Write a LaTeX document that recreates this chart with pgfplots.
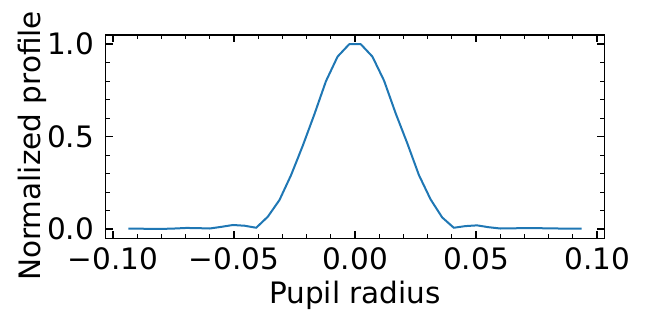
\documentclass[border=0pt]{standalone}
\usepackage{pgfplots}
\pgfplotsset{compat=1.18}
\usepackage{fontspec}
\setmainfont{DejaVu Sans}
\definecolor{mplblue}{HTML}{1F77B4}
\newcommand{\bigf}{\fontsize{29.5bp}{35bp}\selectfont}
\begin{document}
\begin{tikzpicture}
\begin{axis}[
  at={(0,0)}, anchor=south west,
  scale only axis,
  width=498.6bp, height=203.3bp,
  xmin=-0.10296, xmax=0.10296,
  ymin=-0.05, ymax=1.05,
  xtick={-0.1,-0.05,0,0.05,0.1},
  xticklabels={−0.10,−0.05,0.00,0.05,0.10},
  ytick={0,0.5,1},
  yticklabels={0.0,0.5,1.0},
  minor x tick num=4,
  minor y tick num=4,
  tick align=inside,
  xtick pos=both, ytick pos=both,
  major tick length=7bp,
  minor tick length=4bp,
  every tick/.style={black, line width=1.5bp},
  every minor tick/.style={black, line width=1.15bp},
  axis line style={black, line width=1.5bp},
  ticklabel style={font=\bigf},
  xticklabel style={inner sep=0pt, anchor=north, yshift=-9bp},
  yticklabel style={inner sep=0pt, anchor=east, xshift=-11.5bp},
  label style={font=\bigf},
  xlabel={Pupil radius},
  ylabel={Normalized profile},
  xlabel style={at={(axis description cs:0.5,-0.3197)}, anchor=base, inner sep=0pt},
  ylabel style={at={(axis description cs:-0.1306,0.4548)}, anchor=base, inner sep=0pt},
]
\addplot[mplblue, line width=2bp, line join=round] coordinates {
(-0.0936,0.002)
(-0.0888,0.002)
(-0.0840,0.001)
(-0.0792,0.001)
(-0.0744,0.003)
(-0.0696,0.006)
(-0.0648,0.005)
(-0.0600,0.003)
(-0.0552,0.012)
(-0.0504,0.022)
(-0.0456,0.018)
(-0.0408,0.007)
(-0.0360,0.067)
(-0.0312,0.157)
(-0.0264,0.292)
(-0.0216,0.450)
(-0.0168,0.620)
(-0.0120,0.800)
(-0.0072,0.933)
(-0.0024,1.000)
(0.0024,1.000)
(0.0072,0.933)
(0.0120,0.803)
(0.0168,0.626)
(0.0216,0.464)
(0.0264,0.292)
(0.0312,0.161)
(0.0360,0.063)
(0.0408,0.007)
(0.0456,0.016)
(0.0504,0.020)
(0.0552,0.010)
(0.0600,0.003)
(0.0648,0.004)
(0.0696,0.005)
(0.0744,0.005)
(0.0792,0.004)
(0.0840,0.003)
(0.0888,0.003)
(0.0936,0.003)
};
\end{axis}
\pgfresetboundingbox
\path[use as bounding box] (-105.7bp,-72.7bp) rectangle (548.3bp,238.3bp);
\end{tikzpicture}
\end{document}
